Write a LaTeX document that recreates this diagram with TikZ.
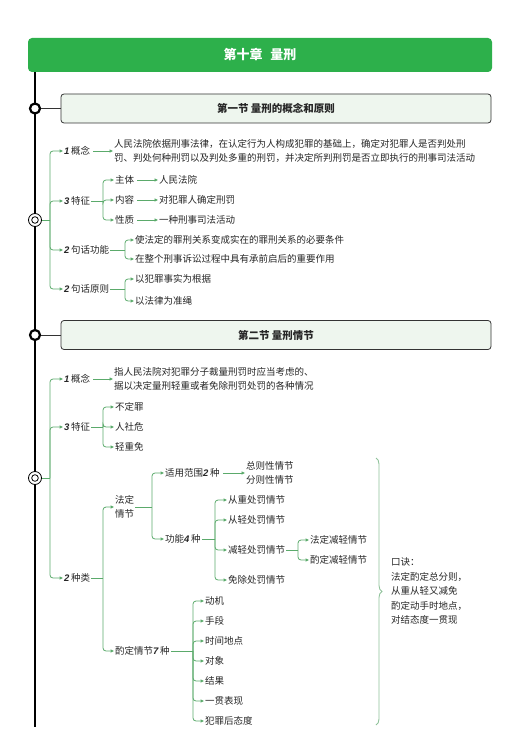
\documentclass[tikz,border=0pt]{standalone}
\usepackage{fontspec}
\setmainfont{Noto Sans CJK SC}
\newfontfamily\numfont{Liberation Sans}
\usetikzlibrary{arrows.meta,positioning,decorations.pathreplacing}
\definecolor{headgreen}{HTML}{2DB04B}
\definecolor{linegreen}{HTML}{5BAA6B}
\definecolor{boxfill}{HTML}{EEF6EE}
\definecolor{bracegray}{HTML}{8FC29A}
\definecolor{ink}{HTML}{262626}
\newcommand{\numit}[1]{{\numfont\bfseries\itshape #1}\,}

\begin{document}
\begin{tikzpicture}[
      x=1pt, y=-1pt,
      font=\fontsize{9.5}{14.5}\selectfont, text=ink,
      item/.style={anchor=west, inner sep=1pt, align=left},
      section/.style={draw=black!80, line width=0.8pt, fill=boxfill, rounded corners=3pt, minimum width=430pt, minimum height=29pt, font=\fontsize{10.5}{12}\selectfont\bfseries},
      ring/.style={circle, draw=black, line width=2.2pt, fill=white, minimum size=10pt, inner sep=0pt},
      dring/.style={circle, draw=black, line width=0.8pt, fill=white, minimum size=13pt, inner sep=0pt,
        path picture={\draw[line width=0.8pt] (path picture bounding box.center) circle[radius=3.3pt];}},
      link/.style={draw=linegreen, line width=0.8pt, rounded corners=3pt},
      arrow/.style={link, -{Triangle[length=3.5pt, width=3pt]}},
      lead/.style={arrow, shorten <=2pt}
    ]
    \useasboundingbox (0,0) rectangle (518,749);

    \node[fill=headgreen, rounded corners=4pt, minimum width=464pt, minimum height=34pt, text=white, font=\fontsize{13}{14}\selectfont\bfseries] (title) at (260,55) {第十章\hspace{0.6em}量刑};
    \coordinate (spineend) at (35,727);
    \draw[line width=2pt] (title.south -| spineend) -- (spineend);

    \node[section] (sec1) at (276,108.5) {第一节 量刑的概念和原则};
    \node[ring] (r1) at (35,108.5) {};
    \draw[black!80, line width=0.8pt] (r1) -- (sec1);

    \node[dring] (d1) at (35,220) {};
    \coordinate (f1) at (50,220);
    \draw[link] (d1) -- (f1);
    \node[item] (gn1) at (63,151) {\numit{1}概念};
    \node[item] (tz1) at (63,201) {\numit{3}特征};
    \node[item] (gn2) at (63,250) {\numit{2}句话功能};
    \node[item] (yz1) at (63,289) {\numit{2}句话原则};
    \foreach \n in {gn1,tz1,gn2,yz1} \draw[arrow] (f1) |- (\n.west);

    \node[item] (def1) at (113,151) {人民法院依据刑事法律，在认定行为人构成犯罪的基础上，确定对犯罪人是否判处刑\\罚、判处何种刑罚以及判处多重的刑罚，并决定所判刑罚是否立即执行的刑事司法活动};
    \draw[lead] (gn1.east) -- (def1.west);

    \coordinate (f2) at (103,201);
    \draw[link] (tz1.east) -- (f2);
    \node[item] (zt) at (114,180) {主体};
    \node[item] (nr) at (114,200) {内容};
    \node[item] (xz) at (114,220) {性质};
    \foreach \n in {zt,nr,xz} \draw[arrow] (f2) |- (\n.west);
    \node[item] (zt2) at (158,180) {人民法院};
    \node[item] (nr2) at (158,200) {对犯罪人确定刑罚};
    \node[item] (xz2) at (158,220) {一种刑事司法活动};
    \draw[lead] (zt.east) -- (zt2.west);
    \draw[lead] (nr.east) -- (nr2.west);
    \draw[lead] (xz.east) -- (xz2.west);

    \coordinate (f3) at (125,250);
    \draw[link] (gn2.east) -- (f3);
    \node[item] (gn2a) at (134,240) {使法定的罪刑关系变成实在的罪刑关系的必要条件};
    \node[item] (gn2b) at (134,259) {在整个刑事诉讼过程中具有承前启后的重要作用};
    \foreach \n in {gn2a,gn2b} \draw[arrow] (f3) |- (\n.west);

    \coordinate (f4) at (125,289);
    \draw[link] (yz1.east) -- (f4);
    \node[item] (yz1a) at (134,279) {以犯罪事实为根据};
    \node[item] (yz1b) at (134,301) {以法律为准绳};
    \foreach \n in {yz1a,yz1b} \draw[arrow] (f4) |- (\n.west);

    \node[section] (sec2) at (276,335) {第二节 量刑情节};
    \node[ring] (r2) at (35,335) {};
    \draw[black!80, line width=0.8pt] (r2) -- (sec2);

    \node[dring] (d2) at (35,478) {};
    \coordinate (f5) at (50,478);
    \draw[link] (d2) -- (f5);
    \node[item] (gn3) at (63,379) {\numit{1}概念};
    \node[item] (tz2) at (63,427) {\numit{3}特征};
    \node[item] (zl) at (63,578) {\numit{2}种类};
    \foreach \n in {gn3,tz2,zl} \draw[arrow] (f5) |- (\n.west);

    \node[item] (def2) at (113,379) {指人民法院对犯罪分子裁量刑罚时应当考虑的、\\据以决定量刑轻重或者免除刑罚处罚的各种情况};
    \draw[lead] (gn3.east) -- (def2.west);

    \coordinate (f6) at (103,427);
    \draw[link] (tz2.east) -- (f6);
    \node[item] (bd) at (114,407) {不定罪};
    \node[item] (rs) at (114,427) {人社危};
    \node[item] (qz) at (114,447) {轻重免};
    \foreach \n in {bd,rs,qz} \draw[arrow] (f6) |- (\n.west);

    \coordinate (f7) at (103,578);
    \draw[link] (zl.east) -- (f7);
    \node[item] (fd) at (114,507) {法定\\情节};
    \node[item] (zd) at (114,651) {酌定情节\numit{7}种};
    \foreach \n in {fd,zd} \draw[arrow] (f7) |- (\n.west);

    \coordinate (f8) at (152,507);
    \draw[link] (fd.east) -- (f8);
    \node[item] (sy) at (164,473) {适用范围\numit{2}种};
    \node[item] (gnn) at (164,539) {功能\numit{4}种};
    \foreach \n in {sy,gnn} \draw[arrow] (f8) |- (\n.west);
    \node[item] (zf) at (245,473) {总则性情节\\分则性情节};
    \draw[lead] (sy.east) -- (zf.west);

    \coordinate (f9) at (215,539);
    \draw[link] (gnn.east) -- (f9);
    \node[item] (cz) at (227,500) {从重处罚情节};
    \node[item] (cq) at (227,520) {从轻处罚情节};
    \node[item] (jq) at (227,550) {减轻处罚情节};
    \node[item] (mc) at (227,580) {免除处罚情节};
    \foreach \n in {cz,cq,jq,mc} \draw[arrow] (f9) |- (\n.west);

    \coordinate (f10) at (298,550);
    \draw[link] (jq.east) -- (f10);
    \node[item] (jqa) at (309,540) {法定减轻情节};
    \node[item] (jqb) at (309,560) {酌定减轻情节};
    \foreach \n in {jqa,jqb} \draw[arrow] (f10) |- (\n.west);

    \coordinate (f11) at (193,651);
    \draw[link] (zd.east) -- (f11);
    \foreach \t [count=\i from 0] in {动机,手段,时间地点,对象,结果,一贯表现,犯罪后态度} {
      \node[item] (zd\i) at (204,601+20*\i) {\t};
      \draw[arrow] (f11) |- (zd\i.west);
    }

    \draw[bracegray, line width=0.9pt, decorate, decoration={brace, amplitude=6pt}] (376,458) -- (376,725);
    \node[item] (kj) at (390,591) {口诀：\\法定酌定总分则，\\从重从轻又减免\\酌定动手时地点，\\对结态度一贯现};
  \end{tikzpicture}
\end{document}
